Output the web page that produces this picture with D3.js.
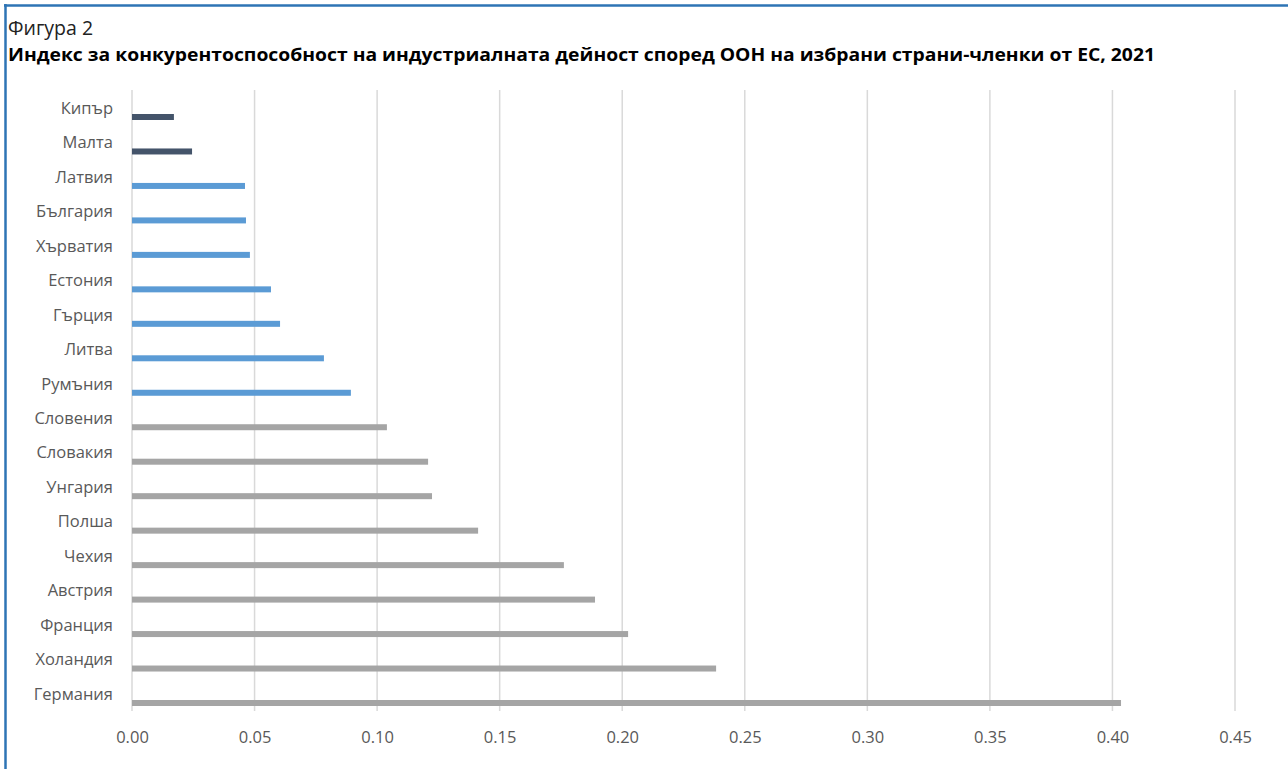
<!DOCTYPE html>
<html>
<head>
<meta charset="utf-8">
<script src="https://cdn.jsdelivr.net/npm/d3@7"></script>
<style>
	body { margin: 0; background: #fff; }
	svg { display: block; }
</style>
</head>
<body>
<svg id="chart" width="1288" height="769"></svg>
<script>
(function (d3) {
	"use strict";

	/***** Data *****/
	const countries = ["Кипър", "Малта", "Латвия", "България", "Хърватия", "Естония", "Гърция", "Литва", "Румъния",
		"Словения", "Словакия", "Унгария", "Полша", "Чехия", "Австрия", "Франция", "Холандия", "Германия"];
	const cipValues = [0.0171, 0.0245, 0.0461, 0.0465, 0.0481, 0.0567, 0.0604, 0.0783, 0.0893,
		0.1040, 0.1208, 0.1224, 0.1412, 0.1762, 0.1889, 0.2024, 0.2383, 0.4035];
	// group per country: 0 = small island, 1 = newer members, 2 = others
	const groups = [0, 0, 1, 1, 1, 1, 1, 1, 1, 2, 2, 2, 2, 2, 2, 2, 2, 2];
	const xTicks = [0, 0.05, 0.10, 0.15, 0.20, 0.25, 0.30, 0.35, 0.40, 0.45];

	/***** Constants *****/
	const groupColors = ["#44546a", "#5b9bd5", "#a5a5a5"];
	const plotLeft = 132, plotRight = 1235;
	const gridTop = 90, gridBottom = 711;
	const firstBar = 117, lastBar = 703;
	const barHeight = 6;
	const labelFont = "Open Sans";

	var svg = d3.select("#chart");

	// Frame (blue rule on top and left)
	svg.append("line")
		.attr("x1", 4).attr("x2", 1288).attr("y1", 5.5).attr("y2", 5.5)
		.attr("stroke", "#2e74b5").attr("stroke-width", 2.5);
	svg.append("line")
		.attr("x1", 5.5).attr("x2", 5.5).attr("y1", 4).attr("y2", 769)
		.attr("stroke", "#2e74b5").attr("stroke-width", 2.5);

	// Titles
	svg.append("text")
		.attr("x", 8).attr("y", 35)
		.attr("font-family", labelFont)
		.attr("font-size", 19.5)
		.attr("fill", "#222")
		.text("Фигура 2");
	svg.append("text")
		.attr("x", 8).attr("y", 61)
		.attr("font-family", labelFont)
		.attr("font-weight", "bold")
		.attr("font-size", 17.5)
		.attr("textLength", 1147)
		.attr("lengthAdjust", "spacingAndGlyphs")
		.attr("fill", "#000")
		.text("Индекс за конкурентоспособност на индустриалната дейност според ООН на избрани страни-членки от ЕС, 2021");

	/***** Scales *****/
	var x = d3.scaleLinear().domain([0, 0.45]).range([plotLeft, plotRight]);
	var y = d3.scalePoint().domain(countries).range([firstBar, lastBar]);

	// Gridlines
	svg.append("g")
		.selectAll("line")
		.data(xTicks)
		.join("line")
		.attr("x1", d => x(d)).attr("x2", d => x(d))
		.attr("y1", gridTop).attr("y2", gridBottom)
		.attr("stroke", "#d9d9d9").attr("stroke-width", 1.5);

	// Bars
	svg.append("g")
		.selectAll("rect")
		.data(countries)
		.join("rect")
		.attr("x", x(0))
		.attr("y", d => y(d) - barHeight / 2)
		.attr("width", (d, i) => x(cipValues[i]) - x(0))
		.attr("height", barHeight)
		.attr("fill", (d, i) => groupColors[groups[i]]);

	// Category labels
	svg.append("g")
		.selectAll("text")
		.data(countries)
		.join("text")
		.attr("x", 113)
		.attr("y", d => y(d) - 9)
		.attr("dy", "0.35em")
		.attr("text-anchor", "end")
		.attr("font-family", labelFont)
		.attr("font-size", 16.5)
		.attr("fill", "#595959")
		.text(d => d);

	// X axis labels
	var xAxis = d3.axisBottom(x)
		.tickValues(xTicks)
		.tickFormat(d3.format(".2f"))
		.tickSize(0)
		.tickPadding(0);
	var axisG = svg.append("g")
		.attr("transform", "translate(0," + 731 + ")")
		.call(xAxis);
	axisG.select(".domain").remove();
	axisG.selectAll("text")
		.attr("font-family", labelFont)
		.attr("font-size", 16.5)
		.attr("fill", "#595959");

})(d3);
</script>
</body>
</html>
